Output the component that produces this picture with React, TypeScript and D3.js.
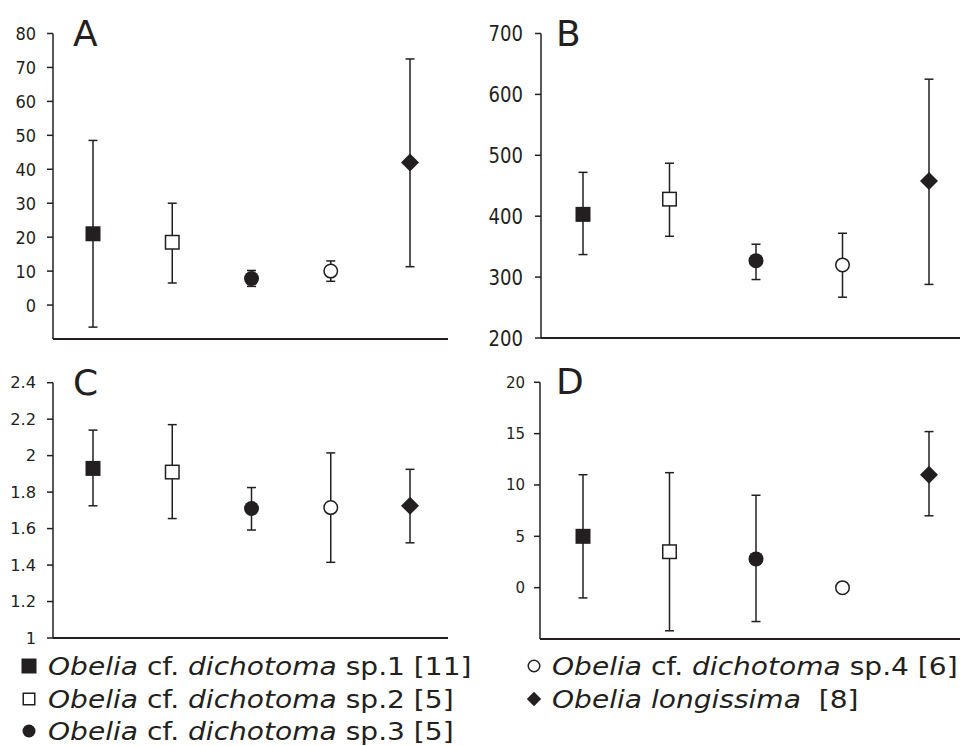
import React from "react";
import * as d3 from "d3";

const species = ["sp1", "sp2", "sp3", "sp4", "long"];
const markerTypes = ["squareFilled", "squareOpen", "circleFilled", "circleOpen", "diamond"];

// Panel A
const aMean = [21, 18.5, 7.8, 10, 42];
const aHigh = [48.5, 30, 10.2, 13, 72.5];
const aLow = [-6.5, 6.5, 5.5, 7, 11.3];
const aTicks = [0, 10, 20, 30, 40, 50, 60, 70, 80];

// Panel B
const bMean = [403, 428, 327, 320, 458];
const bHigh = [472, 487, 354, 372, 625];
const bLow = [337, 367, 296, 267, 288];
const bTicks = [200, 300, 400, 500, 600, 700];

// Panel C
const cMean = [1.93, 1.91, 1.71, 1.715, 1.725];
const cHigh = [2.14, 2.17, 1.825, 2.015, 1.925];
const cLow = [1.725, 1.655, 1.592, 1.415, 1.522];
const cTicks = [1, 1.2, 1.4, 1.6, 1.8, 2, 2.2, 2.4];

// Panel D
const dMean = [5, 3.5, 2.8, 0, 11];
const dHigh: (number | null)[] = [11, 11.2, 9, null, 15.2];
const dLow: (number | null)[] = [-1, -4.2, -3.3, null, 7];
const dTicks = [0, 5, 10, 15, 20];

const legendGenus = ["Obelia", "Obelia", "Obelia", "Obelia", "Obelia"];
const legendMid = [" cf. ", " cf. ", " cf. ", " cf. ", " "];
const legendEpithet = ["dichotoma", "dichotoma", "dichotoma", "dichotoma", "longissima"];
const legendTail = [" sp.1 [11]", " sp.2 [5]", " sp.3 [5]", " sp.4 [6]", "  [8]"];

const INK = "#231f20";
const FONT = "DejaVu Sans, Verdana, sans-serif";

function Marker({ type, x, y, s }: { type: string; x: number; y: number; s: number }) {
  if (type === "squareFilled")
    return <rect x={x - s / 2} y={y - s / 2} width={s} height={s} fill={INK} />;
  if (type === "squareOpen")
    return (
      <rect x={x - s / 2 + 0.75} y={y - s / 2 + 0.75} width={s - 1.5} height={s - 1.5} fill="#fff" stroke={INK} strokeWidth={1.5} />
    );
  if (type === "circleFilled") return <circle cx={x} cy={y} r={s / 2} fill={INK} />;
  if (type === "circleOpen")
    return <circle cx={x} cy={y} r={s / 2 - 0.75} fill="#fff" stroke={INK} strokeWidth={1.5} />;
  const h = s * 0.6;
  return <path d={`M${x},${y - h} L${x + h},${y} L${x},${y + h} L${x - h},${y} Z`} fill={INK} />;
}

type PanelProps = {
  label: string;
  labelX: number;
  labelY: number;
  axisX: number;
  xEnd: number;
  xRange: [number, number];
  domain: [number, number];
  yRange: [number, number];
  ticks: number[];
  tickFont: number;
  tickScaleX: number;
  tickGap: number;
  mean: number[];
  high: (number | null)[];
  low: (number | null)[];
};

function Panel(p: PanelProps) {
  const y = d3.scaleLinear().domain(p.domain).range(p.yRange);
  const x = d3.scalePoint<string>().domain(species).range(p.xRange);
  const bottom = p.yRange[0];
  const top = p.yRange[1];
  const fmt = (v: number) => String(+v.toFixed(2));
  return (
    <g>
      <line x1={p.axisX} x2={p.axisX} y1={top} y2={bottom} stroke={INK} strokeWidth={1.5} />
      <line x1={p.axisX} x2={p.xEnd} y1={bottom} y2={bottom} stroke={INK} strokeWidth={1.8} />
      {p.ticks.map((t) => (
        <g key={t}>
          <line x1={p.axisX - 6} x2={p.axisX} y1={y(t)} y2={y(t)} stroke={INK} strokeWidth={1.5} />
          <text
            transform={`translate(${p.axisX - p.tickGap},${y(t)}) scale(${p.tickScaleX},1)`}
            dy="0.36em"
            textAnchor="end"
            fontSize={p.tickFont}
            fontFamily={FONT}
            fill={INK}
          >
            {fmt(t)}
          </text>
        </g>
      ))}
      <text x={p.labelX} y={p.labelY} fontSize={36} fontFamily={FONT} fill={INK}>
        {p.label}
      </text>
      {species.map((s, i) => {
        const cx = x(s) as number;
        const hi = p.high[i];
        const lo = p.low[i];
        return (
          <g key={s}>
            {hi !== null && lo !== null && (
              <g stroke={INK} strokeWidth={1.5}>
                <line x1={cx} x2={cx} y1={y(hi)} y2={y(lo)} />
                <line x1={cx - 4.5} x2={cx + 4.5} y1={y(hi)} y2={y(hi)} />
                <line x1={cx - 4.5} x2={cx + 4.5} y1={y(lo)} y2={y(lo)} />
              </g>
            )}
            <Marker type={markerTypes[i]} x={cx} y={y(p.mean[i])} s={15} />
          </g>
        );
      })}
    </g>
  );
}

function LegendItem({ i, x, y, tx }: { i: number; x: number; y: number; tx: number }) {
  return (
    <g>
      <Marker type={markerTypes[i]} x={x} y={y - 9} s={i === 4 ? 12 : i === 0 ? 15 : 13} />
      <text
        transform={`translate(${tx},${y}) scale(1.17,1)`}
        fontSize={24}
        fontFamily={FONT}
        fill={INK}
        style={{ whiteSpace: "pre" }}
      >
        <tspan fontStyle="italic">{legendGenus[i]}</tspan>
        <tspan>{legendMid[i]}</tspan>
        <tspan fontStyle="italic">{legendEpithet[i]}</tspan>
        <tspan>{legendTail[i]}</tspan>
      </text>
    </g>
  );
}

export default function App() {
  return (
    <svg
      width={960}
      height={746}
      style={{ position: "absolute", left: 0, top: 0, background: "#fff" }}
    >
      <Panel
        label="A"
        labelX={73}
        labelY={46}
        axisX={53}
        xEnd={448}
        xRange={[93, 410]}
        domain={[-10, 80]}
        yRange={[339, 33.5]}
        ticks={aTicks}
        tickFont={18}
        tickScaleX={0.9}
        tickGap={17}
        mean={aMean}
        high={aHigh}
        low={aLow}
      />
      <Panel
        label="B"
        labelX={556}
        labelY={46}
        axisX={541}
        xEnd={960}
        xRange={[583, 929]}
        domain={[200, 700]}
        yRange={[338, 33.5]}
        ticks={bTicks}
        tickFont={21}
        tickScaleX={0.86}
        tickGap={18}
        mean={bMean}
        high={bHigh}
        low={bLow}
      />
      <Panel
        label="C"
        labelX={73}
        labelY={395}
        axisX={53}
        xEnd={448}
        xRange={[93, 410]}
        domain={[1, 2.4]}
        yRange={[638, 382.7]}
        ticks={cTicks}
        tickFont={15.5}
        tickScaleX={1.05}
        tickGap={17}
        mean={cMean}
        high={cHigh}
        low={cLow}
      />
      <Panel
        label="D"
        labelX={556}
        labelY={394}
        axisX={540}
        xEnd={960}
        xRange={[583, 929]}
        domain={[-5, 20]}
        yRange={[639, 382.3]}
        ticks={dTicks}
        tickFont={15}
        tickScaleX={1}
        tickGap={15}
        mean={dMean}
        high={dHigh}
        low={dLow}
      />
      <LegendItem i={0} x={29} y={675} tx={48} />
      <LegendItem i={1} x={29} y={708} tx={48} />
      <LegendItem i={2} x={29} y={740} tx={48} />
      <LegendItem i={3} x={534} y={675} tx={552} />
      <LegendItem i={4} x={534} y={708} tx={552} />
    </svg>
  );
}
